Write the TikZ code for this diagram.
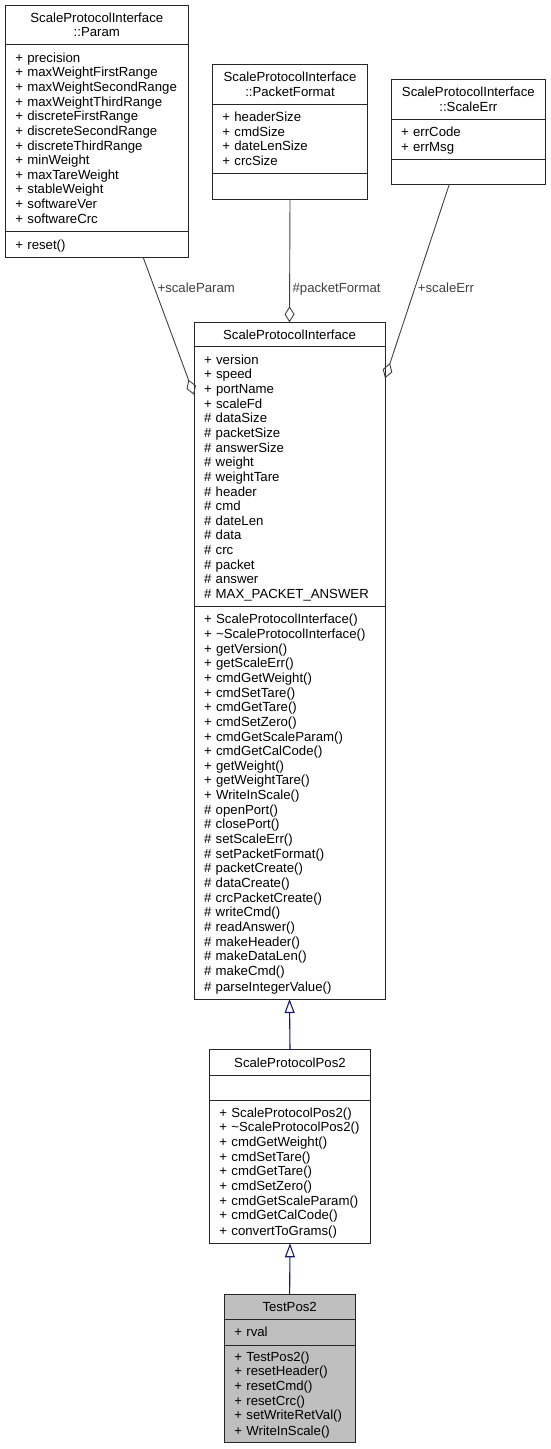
\documentclass[tikz,border=0pt]{standalone}
\usepackage{fontspec}
\setmainfont{Liberation Sans}
\usetikzlibrary{positioning,arrows.meta}
\definecolor{edgegray}{HTML}{404040}
\definecolor{midnight}{HTML}{191970}
\newcommand{\rowstrut}{\rule[-2.6pt]{0pt}{14.6pt}}

\begin{document}
\begin{tikzpicture}[
    x=1pt, y=-1pt,
    every node/.style={font=\fontsize{13.2}{14.64}\selectfont},
    compartment/.style={draw=black!85, line width=0.9pt, fill=white, inner xsep=10pt, inner ysep=0pt, outer sep=0pt, anchor=north west, align=left, execute at begin node=\rowstrut, execute at end node=\rowstrut},
    classname/.style={compartment, align=center},
    current/.style={fill=gray!50},
    composition/.style={edgegray, line width=0.9pt, -{Diamond[open, length=16pt, width=10pt]}},
    inherit/.style={midnight, line width=1.1pt, -{Triangle[open, length=14pt, width=10pt]}},
    role/.style={anchor=west, inner sep=2.5pt},
]
\useasboundingbox (0,0) rectangle (551,1449);

% nested structs
\node[classname, text width=163pt, minimum height=39pt] (paramTitle) at (5.3,5.3) {ScaleProtocolInterface\\::Param};
\node[compartment, text width=163pt, minimum height=187.4pt, below=0pt of paramTitle] (paramAttr) {+~precision\\+~maxWeightFirstRange\\+~maxWeightSecondRange\\+~maxWeightThirdRange\\+~discreteFirstRange\\+~discreteSecondRange\\+~discreteThirdRange\\+~minWeight\\+~maxTareWeight\\+~stableWeight\\+~softwareVer\\+~softwareCrc};
\node[compartment, text width=163pt, minimum height=26pt, below=0pt of paramAttr] (paramMeth) {+~reset()};

\node[classname, text width=135.4pt, minimum height=40pt] (pfTitle) at (212.3,64.3) {ScaleProtocolInterface\\::PacketFormat};
\node[compartment, text width=135.4pt, minimum height=69pt, below=0pt of pfTitle] (pfAttr) {+~headerSize\\+~cmdSize\\+~dateLenSize\\+~crcSize};
\node[compartment, text width=135.4pt, minimum height=25.7pt, below=0pt of pfAttr] (pfMeth) {};

\node[classname, text width=134.7pt, minimum height=40pt] (seTitle) at (391,79) {ScaleProtocolInterface\\::ScaleErr};
\node[compartment, text width=134.7pt, minimum height=40.3pt, below=0pt of seTitle] (seAttr) {+~errCode\\+~errMsg};
\node[compartment, text width=134.7pt, minimum height=25pt, below=0pt of seAttr] (seMeth) {};

% base class
\node[classname, text width=171pt, minimum height=24.4pt] (spiTitle) at (194,322.3) {ScaleProtocolInterface};
\node[compartment, text width=171pt, minimum height=260pt, below=0pt of spiTitle] (spiAttr) {+~version\\+~speed\\+~portName\\+~scaleFd\\\#~dataSize\\\#~packetSize\\\#~answerSize\\\#~weight\\\#~weightTare\\\#~header\\\#~cmd\\\#~dateLen\\\#~data\\\#~crc\\\#~packet\\\#~answer\\\#~MAX\_PACKET\_ANSWER};
\node[compartment, text width=171pt, minimum height=392.3pt, below=0pt of spiAttr] (spiMeth) {+~ScaleProtocolInterface()\\+~\textasciitilde ScaleProtocolInterface()\\+~getVersion()\\+~getScaleErr()\\+~cmdGetWeight()\\+~cmdSetTare()\\+~cmdGetTare()\\+~cmdSetZero()\\+~cmdGetScaleParam()\\+~cmdGetCalCode()\\+~getWeight()\\+~getWeightTare()\\+~WriteInScale()\\\#~openPort()\\\#~closePort()\\\#~setScaleErr()\\\#~setPacketFormat()\\\#~packetCreate()\\\#~dataCreate()\\\#~crcPacketCreate()\\\#~writeCmd()\\\#~readAnswer()\\\#~makeHeader()\\\#~makeDataLen()\\\#~makeCmd()\\\#~parseIntegerValue()};

% derived classes
\node[classname, text width=141.4pt, minimum height=26pt] (sppTitle) at (209.3,1049.3) {ScaleProtocolPos2};
\node[compartment, text width=141.4pt, minimum height=25pt, below=0pt of sppTitle] (sppAttr) {};
\node[compartment, text width=141.4pt, minimum height=143pt, below=0pt of sppAttr] (sppMeth) {+~ScaleProtocolPos2()\\+~\textasciitilde ScaleProtocolPos2()\\+~cmdGetWeight()\\+~cmdSetTare()\\+~cmdGetTare()\\+~cmdSetZero()\\+~cmdGetScaleParam()\\+~cmdGetCalCode()\\+~convertToGrams()};

\node[classname, current, text width=110.7pt, minimum height=25.3pt] (tpTitle) at (224.3,1294) {TestPos2};
\node[compartment, current, text width=110.7pt, minimum height=25.7pt, below=0pt of tpTitle] (tpAttr) {+~rval};
\node[compartment, current, text width=110.7pt, minimum height=97.3pt, below=0pt of tpAttr] (tpMeth) {+~TestPos2()\\+~resetHeader()\\+~resetCmd()\\+~resetCrc()\\+~setWriteRetVal()\\+~WriteInScale()};

% members
\draw[composition] ([xshift=46.5pt]paramMeth.south) -- node[role, pos=0.223]{+scaleParam} ([yshift=82pt]spiAttr.west);
\draw[composition] (pfMeth.south) -- node[role, pos=0.73]{\#packetFormat} (spiTitle.north);
\draw[composition] ([xshift=-19.05pt]seMeth.south) -- node[role, pos=0.5345]{+scaleErr} ([yshift=98.4pt]spiAttr.east);

% inheritance
\draw[inherit] (sppTitle.north) -- (spiMeth.south);
\draw[inherit] (tpTitle.north) -- (sppMeth.south);
\end{tikzpicture}
\end{document}
